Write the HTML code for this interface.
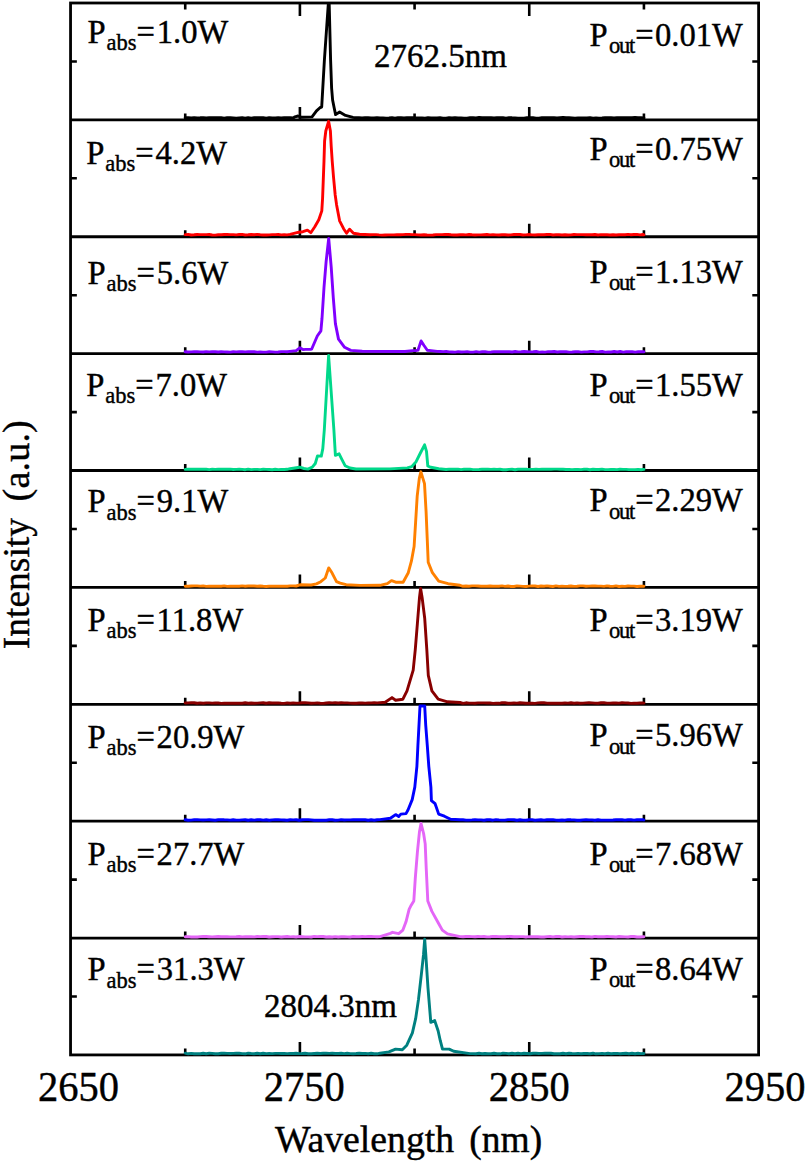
<!DOCTYPE html>
<html><head><meta charset="utf-8"><style>
html,body{margin:0;padding:0;background:#fff;}
body{width:806px;height:1164px;overflow:hidden;font-family:"Liberation Serif",serif;}
svg{display:block;}
text{white-space:pre;}
</style></head><body>
<svg width="806" height="1164" viewBox="0 0 806 1164">
<rect width="806" height="1164" fill="#fff"/>
<g stroke="#000" stroke-width="2.8" fill="none">
<rect x="70.55" y="3.0" width="688.05" height="1051.92"/>
<line x1="70.55" y1="119.88" x2="758.6" y2="119.88"/>
<line x1="70.55" y1="236.76" x2="758.6" y2="236.76"/>
<line x1="70.55" y1="353.64" x2="758.6" y2="353.64"/>
<line x1="70.55" y1="470.52" x2="758.6" y2="470.52"/>
<line x1="70.55" y1="587.40" x2="758.6" y2="587.40"/>
<line x1="70.55" y1="704.28" x2="758.6" y2="704.28"/>
<line x1="70.55" y1="821.16" x2="758.6" y2="821.16"/>
<line x1="70.55" y1="938.04" x2="758.6" y2="938.04"/>
</g>
<path d="M185.23,119.88v-6.5 M414.58,119.88v-6.5 M643.93,119.88v-6.5 M299.90,119.88v-13 M529.25,119.88v-13 M70.55,61.44h6.3 M758.60,61.44h-6.3 M185.23,236.76v-6.5 M414.58,236.76v-6.5 M643.93,236.76v-6.5 M299.90,236.76v-13 M529.25,236.76v-13 M70.55,178.32h6.3 M758.60,178.32h-6.3 M185.23,353.64v-6.5 M414.58,353.64v-6.5 M643.93,353.64v-6.5 M299.90,353.64v-13 M529.25,353.64v-13 M70.55,295.20h6.3 M758.60,295.20h-6.3 M185.23,470.52v-6.5 M414.58,470.52v-6.5 M643.93,470.52v-6.5 M299.90,470.52v-13 M529.25,470.52v-13 M70.55,412.08h6.3 M758.60,412.08h-6.3 M185.23,587.40v-6.5 M414.58,587.40v-6.5 M643.93,587.40v-6.5 M299.90,587.40v-13 M529.25,587.40v-13 M70.55,528.96h6.3 M758.60,528.96h-6.3 M185.23,704.28v-6.5 M414.58,704.28v-6.5 M643.93,704.28v-6.5 M299.90,704.28v-13 M529.25,704.28v-13 M70.55,645.84h6.3 M758.60,645.84h-6.3 M185.23,821.16v-6.5 M414.58,821.16v-6.5 M643.93,821.16v-6.5 M299.90,821.16v-13 M529.25,821.16v-13 M70.55,762.72h6.3 M758.60,762.72h-6.3 M185.23,938.04v-6.5 M414.58,938.04v-6.5 M643.93,938.04v-6.5 M299.90,938.04v-13 M529.25,938.04v-13 M70.55,879.60h6.3 M758.60,879.60h-6.3 M185.23,1054.92v-6.5 M414.58,1054.92v-6.5 M643.93,1054.92v-6.5 M299.90,1054.92v-13 M529.25,1054.92v-13 M70.55,996.48h6.3 M758.60,996.48h-6.3 M185.23,3.00v6.5 M414.58,3.00v6.5 M643.93,3.00v6.5 M299.90,3.00v13 M529.25,3.00v13" stroke="#000" stroke-width="2.6" fill="none"/>
<g fill="none" stroke-width="2.9" stroke-linejoin="round" stroke-linecap="round">
<path d="M185.2,117.7 L188.2,117.6 L191.2,118.0 L194.2,117.6 L197.2,117.9 L200.2,117.8 L203.2,117.6 L206.2,117.9 L209.2,117.6 L212.2,117.8 L215.2,117.6 L218.2,117.6 L221.2,117.8 L224.2,118.1 L227.2,117.6 L230.2,117.7 L233.2,117.9 L236.2,118.1 L239.2,117.9 L242.2,117.8 L245.2,118.2 L248.2,117.6 L251.2,118.1 L254.2,117.7 L257.2,117.6 L260.2,117.6 L263.2,117.7 L266.2,118.1 L269.2,117.6 L272.2,117.9 L275.2,117.9 L278.2,117.8 L281.2,117.9 L284.2,117.6 L287.2,117.6 L290.2,117.7 L293.2,118.0 L295.0,116.8 L298.0,116.0 L301.0,117.2 L312.0,116.9 L316.5,110.9 L320.2,107.5 L321.7,107.0 L324.4,60.0 L328.3,4.2 L329.2,4.2 L330.6,60.0 L331.6,88.0 L332.6,100.0 L334.2,108.0 L335.6,114.6 L339.6,112.0 L345.5,115.4 L353.0,117.4 L356.0,117.8 L359.0,117.7 L362.0,117.9 L365.0,117.8 L368.0,117.7 L371.0,118.0 L374.0,118.0 L377.0,117.7 L380.0,117.9 L383.0,117.9 L386.0,118.1 L389.0,118.0 L392.0,117.7 L395.0,118.2 L398.0,117.6 L401.0,117.8 L404.0,118.0 L407.0,117.6 L410.0,117.8 L413.0,117.6 L416.0,118.0 L419.0,118.0 L422.0,117.9 L425.0,118.1 L428.0,117.7 L431.0,118.0 L434.0,117.9 L437.0,117.9 L440.0,117.8 L443.0,118.1 L446.0,118.1 L449.0,117.8 L452.0,118.0 L455.0,117.6 L458.0,118.0 L461.0,118.0 L464.0,118.2 L467.0,118.1 L470.0,117.7 L473.0,117.8 L476.0,118.0 L479.0,117.5 L482.0,117.8 L485.0,117.6 L488.0,117.6 L491.0,117.6 L494.0,118.0 L497.0,117.6 L500.0,117.7 L503.0,117.8 L506.0,118.1 L509.0,117.6 L512.0,117.8 L515.0,117.9 L518.0,118.1 L521.0,118.1 L524.0,118.1 L527.0,117.7 L530.0,117.8 L533.0,117.8 L536.0,118.1 L539.0,118.2 L542.0,117.6 L545.0,117.6 L548.0,117.7 L551.0,117.7 L554.0,117.8 L557.0,117.9 L560.0,117.7 L563.0,117.5 L566.0,117.8 L569.0,117.8 L572.0,117.9 L575.0,118.1 L578.0,118.0 L581.0,117.9 L584.0,117.9 L587.0,118.0 L590.0,117.6 L593.0,118.1 L596.0,118.0 L599.0,118.1 L602.0,118.0 L605.0,117.8 L608.0,117.8 L611.0,117.6 L614.0,117.9 L617.0,117.6 L620.0,117.6 L623.0,117.7 L626.0,117.6 L629.0,117.8 L632.0,117.6 L635.0,117.5 L638.0,117.6 L641.0,117.6 L643.9,117.9" stroke="#000000"/>
<path d="M185.2,234.6 L188.2,234.4 L191.2,235.0 L194.2,234.8 L197.2,234.5 L200.2,234.6 L203.2,234.6 L206.2,234.6 L209.2,234.5 L212.2,235.0 L215.2,235.1 L218.2,234.7 L221.2,234.7 L224.2,234.5 L227.2,234.5 L230.2,234.6 L233.2,234.6 L236.2,234.9 L239.2,234.5 L242.2,234.4 L245.2,235.0 L248.2,234.8 L251.2,234.5 L254.2,234.8 L257.2,234.4 L260.2,234.8 L263.2,235.0 L266.2,235.0 L269.2,234.9 L272.2,234.6 L275.2,234.6 L278.2,234.5 L281.2,234.9 L284.2,234.8 L287.2,234.9 L290.0,234.4 L298.9,232.2 L302.9,231.7 L307.4,230.2 L310.8,232.7 L314.8,226.8 L318.8,219.8 L321.8,210.9 L322.6,198.0 L323.2,182.0 L324.0,161.0 L324.6,141.0 L325.8,131.0 L328.6,121.3 L330.4,131.0 L331.2,146.0 L332.2,161.0 L333.6,178.0 L335.2,195.0 L336.6,204.9 L339.6,220.8 L343.6,228.7 L346.6,233.2 L349.6,229.2 L353.5,233.2 L359.5,234.2 L370.0,234.7 L373.0,234.6 L376.0,234.6 L379.0,234.9 L382.0,235.1 L385.0,235.0 L388.0,234.9 L391.0,234.9 L394.0,234.9 L397.0,234.6 L400.0,234.7 L403.0,234.6 L406.0,234.4 L409.0,234.4 L412.0,234.6 L415.0,234.6 L418.0,234.9 L421.0,235.0 L424.0,234.7 L427.0,235.0 L430.0,235.1 L433.0,235.0 L436.0,234.6 L439.0,234.6 L442.0,234.6 L445.0,234.5 L448.0,234.5 L451.0,234.8 L454.0,235.0 L457.0,235.0 L460.0,234.7 L463.0,234.8 L466.0,234.9 L469.0,234.5 L472.0,234.8 L475.0,235.0 L478.0,234.9 L481.0,234.9 L484.0,234.7 L487.0,234.5 L490.0,234.9 L493.0,234.6 L496.0,234.9 L499.0,235.0 L502.0,234.7 L505.0,234.7 L508.0,235.0 L511.0,234.9 L514.0,234.5 L517.0,234.5 L520.0,234.5 L523.0,235.0 L526.0,234.9 L529.0,234.5 L532.0,234.9 L535.0,235.0 L538.0,234.8 L541.0,234.6 L544.0,234.8 L547.0,234.5 L550.0,234.4 L553.0,235.0 L556.0,234.8 L559.0,234.8 L562.0,235.0 L565.0,234.7 L568.0,235.0 L571.0,234.9 L574.0,234.5 L577.0,234.6 L580.0,234.6 L583.0,234.6 L586.0,234.8 L589.0,234.6 L592.0,234.7 L595.0,234.5 L598.0,235.0 L601.0,234.6 L604.0,234.7 L607.0,234.8 L610.0,235.0 L613.0,234.7 L616.0,235.0 L619.0,234.7 L622.0,234.8 L625.0,234.8 L628.0,234.4 L631.0,234.7 L634.0,234.5 L637.0,234.4 L640.0,234.9 L643.0,234.5 L643.9,234.8" stroke="#ff0000"/>
<path d="M185.2,351.8 L188.2,352.0 L191.2,351.9 L194.2,351.7 L197.2,351.8 L200.2,351.9 L203.2,352.0 L206.2,351.6 L209.2,351.9 L212.2,351.7 L215.2,351.7 L218.2,352.0 L221.2,351.8 L224.2,351.9 L227.2,352.0 L230.2,352.1 L233.2,351.8 L236.2,351.9 L239.2,351.8 L242.2,351.8 L245.2,351.9 L248.2,351.8 L251.2,351.8 L254.2,351.8 L257.2,352.1 L260.2,351.9 L263.2,352.1 L266.2,352.1 L269.2,351.7 L272.2,351.9 L275.2,352.1 L278.2,352.0 L281.2,351.6 L284.2,351.6 L287.2,351.8 L290.0,351.4 L296.2,350.6 L299.8,347.8 L303.0,349.6 L305.5,349.4 L310.6,349.4 L311.6,349.2 L317.3,336.0 L320.9,330.8 L322.0,318.5 L324.0,287.5 L326.1,261.8 L328.7,238.5 L331.2,266.9 L333.3,297.9 L335.4,323.6 L338.5,339.1 L344.6,347.3 L350.8,350.4 L362.2,351.2 L405.0,351.5 L412.4,350.6 L416.0,350.6 L418.0,350.2 L421.1,340.9 L424.0,345.5 L427.3,350.3 L431.0,350.6 L437.2,351.4 L440.2,351.5 L443.2,351.6 L446.2,351.5 L449.2,351.9 L452.2,352.0 L455.2,352.1 L458.2,351.6 L461.2,352.0 L464.2,351.9 L467.2,351.6 L470.2,352.1 L473.2,352.1 L476.2,351.6 L479.2,352.1 L482.2,351.7 L485.2,351.8 L488.2,352.1 L491.2,352.0 L494.2,351.6 L497.2,351.8 L500.2,351.8 L503.2,351.7 L506.2,351.6 L509.2,351.7 L512.2,352.0 L515.2,351.5 L518.2,351.9 L521.2,351.8 L524.2,351.5 L527.2,351.7 L530.2,351.9 L533.2,351.8 L536.2,351.5 L539.2,352.1 L542.2,352.0 L545.2,352.1 L548.2,351.6 L551.2,351.7 L554.2,351.5 L557.2,352.0 L560.2,351.7 L563.2,351.6 L566.2,351.8 L569.2,352.1 L572.2,352.0 L575.2,351.7 L578.2,351.6 L581.2,352.1 L584.2,351.9 L587.2,351.9 L590.2,351.5 L593.2,351.5 L596.2,351.9 L599.2,351.8 L602.2,351.5 L605.2,352.1 L608.2,351.9 L611.2,352.0 L614.2,351.5 L617.2,352.0 L620.2,351.5 L623.2,352.1 L626.2,351.8 L629.2,351.7 L632.2,351.8 L635.2,352.1 L638.2,351.7 L641.2,351.6 L643.9,351.8" stroke="#8000ff"/>
<path d="M185.2,469.4 L188.2,469.2 L191.2,469.1 L194.2,469.2 L197.2,469.1 L200.2,469.2 L203.2,469.3 L206.2,469.3 L209.2,469.6 L212.2,469.3 L215.2,469.4 L218.2,469.2 L221.2,469.3 L224.2,469.1 L227.2,469.2 L230.2,469.1 L233.2,469.5 L236.2,469.4 L239.2,469.2 L242.2,469.4 L245.2,469.7 L248.2,469.1 L251.2,469.6 L254.2,469.4 L257.2,469.4 L260.2,469.6 L263.2,469.3 L266.2,469.4 L269.2,469.5 L272.2,469.7 L275.2,469.3 L278.2,469.6 L281.2,469.5 L284.2,469.5 L287.2,469.3 L290.0,468.7 L299.7,467.2 L304.0,468.5 L307.9,469.1 L312.3,467.2 L315.3,463.5 L317.5,455.9 L321.3,456.1 L322.8,448.6 L324.3,430.0 L328.6,355.5 L333.9,430.0 L335.4,455.3 L339.1,453.8 L342.1,459.8 L345.1,465.7 L350.0,468.0 L356.0,469.0 L390.0,468.9 L407.4,467.9 L411.7,466.6 L416.1,461.7 L420.4,453.0 L424.6,444.8 L426.5,451.3 L427.8,466.0 L430.8,467.3 L438.7,468.7 L446.0,469.5 L449.0,469.3 L452.0,469.1 L455.0,469.2 L458.0,469.1 L461.0,469.6 L464.0,469.2 L467.0,469.2 L470.0,469.1 L473.0,469.6 L476.0,469.6 L479.0,469.5 L482.0,469.3 L485.0,469.2 L488.0,469.3 L491.0,469.4 L494.0,469.2 L497.0,469.4 L500.0,469.2 L503.0,469.7 L506.0,469.7 L509.0,469.4 L512.0,469.2 L515.0,469.7 L518.0,469.3 L521.0,469.3 L524.0,469.1 L527.0,469.3 L530.0,469.4 L533.0,469.4 L536.0,469.2 L539.0,469.4 L542.0,469.1 L545.0,469.2 L548.0,469.1 L551.0,469.3 L554.0,469.1 L557.0,469.1 L560.0,469.3 L563.0,469.2 L566.0,469.5 L569.0,469.4 L572.0,469.6 L575.0,469.5 L578.0,469.5 L581.0,469.6 L584.0,469.3 L587.0,469.3 L590.0,469.7 L593.0,469.2 L596.0,469.5 L599.0,469.5 L602.0,469.1 L605.0,469.6 L608.0,469.6 L611.0,469.5 L614.0,469.5 L617.0,469.6 L620.0,469.2 L623.0,469.4 L626.0,469.4 L629.0,469.6 L632.0,469.6 L635.0,469.6 L638.0,469.4 L641.0,469.7 L643.9,469.4" stroke="#00d88a"/>
<path d="M185.2,586.3 L188.2,586.3 L191.2,586.0 L194.2,585.9 L197.2,585.9 L200.2,586.1 L203.2,585.9 L206.2,586.4 L209.2,586.2 L212.2,586.3 L215.2,586.3 L218.2,586.3 L221.2,586.2 L224.2,585.9 L227.2,586.4 L230.2,586.3 L233.2,586.2 L236.2,586.2 L239.2,586.3 L242.2,585.9 L245.2,586.3 L248.2,586.0 L251.2,585.9 L254.2,586.0 L257.2,586.3 L260.2,586.0 L263.2,586.3 L266.2,586.5 L269.2,586.2 L272.2,586.1 L275.2,586.2 L278.2,586.3 L281.2,586.3 L284.2,586.3 L287.2,586.3 L290.2,585.9 L293.2,585.9 L296.2,586.0 L300.0,584.8 L311.2,585.0 L316.4,583.9 L320.8,581.7 L325.3,578.0 L328.7,567.9 L332.0,572.8 L336.5,581.7 L340.2,583.2 L346.2,584.7 L360.0,585.4 L380.0,585.3 L387.3,583.7 L391.5,580.6 L395.7,582.2 L403.1,582.2 L408.3,572.7 L411.4,561.2 L414.1,546.5 L415.6,522.4 L417.2,496.2 L419.3,478.4 L420.9,471.8 L424.5,483.6 L426.1,511.9 L427.2,538.1 L428.2,562.2 L432.4,572.7 L438.7,581.1 L448.1,583.7 L460.0,585.3 L463.0,586.3 L466.0,586.0 L469.0,586.2 L472.0,585.9 L475.0,585.9 L478.0,586.0 L481.0,586.3 L484.0,586.3 L487.0,586.3 L490.0,586.0 L493.0,586.2 L496.0,586.2 L499.0,586.2 L502.0,585.9 L505.0,586.4 L508.0,586.0 L511.0,586.5 L514.0,586.5 L517.0,585.9 L520.0,586.1 L523.0,586.4 L526.0,586.5 L529.0,586.1 L532.0,586.0 L535.0,586.0 L538.0,586.5 L541.0,586.0 L544.0,586.2 L547.0,585.9 L550.0,586.2 L553.0,586.5 L556.0,585.9 L559.0,586.4 L562.0,586.2 L565.0,586.4 L568.0,586.3 L571.0,586.0 L574.0,586.4 L577.0,586.2 L580.0,585.9 L583.0,585.9 L586.0,586.2 L589.0,586.1 L592.0,586.0 L595.0,585.9 L598.0,586.1 L601.0,586.1 L604.0,586.4 L607.0,585.9 L610.0,586.3 L613.0,586.4 L616.0,585.9 L619.0,586.5 L622.0,586.3 L625.0,586.4 L628.0,586.0 L631.0,586.1 L634.0,586.1 L637.0,586.5 L640.0,586.2 L643.0,586.1 L643.9,586.2" stroke="#ff8000"/>
<path d="M185.2,703.0 L188.2,702.9 L191.2,702.8 L194.2,702.8 L197.2,703.3 L200.2,702.9 L203.2,703.3 L206.2,702.9 L209.2,702.9 L212.2,703.1 L215.2,702.9 L218.2,703.0 L221.2,703.4 L224.2,703.3 L227.2,703.3 L230.2,703.1 L233.2,703.3 L236.2,703.3 L239.2,703.1 L242.2,703.2 L245.2,702.8 L248.2,703.2 L251.2,703.0 L254.2,703.2 L257.2,703.1 L260.2,702.9 L263.2,702.8 L266.2,703.3 L269.2,702.8 L272.2,703.0 L275.2,703.0 L278.2,702.9 L281.2,703.2 L284.2,703.4 L287.2,702.9 L290.2,703.2 L293.2,702.9 L296.2,703.1 L299.2,703.0 L302.2,702.8 L305.2,702.8 L308.2,702.9 L311.2,703.3 L314.2,703.1 L317.2,702.9 L320.2,703.3 L323.2,703.4 L326.2,703.0 L329.2,702.8 L332.2,702.9 L335.2,702.8 L338.2,703.0 L341.2,702.8 L344.2,702.9 L347.2,702.9 L350.2,703.1 L353.2,703.3 L356.2,703.2 L359.2,703.0 L362.2,703.0 L365.2,703.1 L368.2,703.0 L371.2,702.9 L374.2,702.8 L377.2,702.9 L380.0,702.6 L385.2,702.3 L392.0,697.6 L395.6,700.2 L402.9,699.2 L407.0,690.9 L413.2,670.1 L415.3,649.3 L417.4,623.4 L419.5,597.4 L420.6,588.5 L422.1,597.4 L424.7,618.2 L426.8,649.3 L428.3,675.3 L431.9,690.9 L438.2,699.2 L447.5,701.8 L460.0,702.5 L463.0,703.4 L466.0,702.8 L469.0,703.1 L472.0,703.1 L475.0,703.3 L478.0,702.9 L481.0,702.9 L484.0,702.9 L487.0,703.0 L490.0,703.0 L493.0,703.4 L496.0,703.3 L499.0,703.3 L502.0,702.7 L505.0,702.8 L508.0,703.2 L511.0,703.3 L514.0,703.0 L517.0,703.1 L520.0,702.7 L523.0,703.0 L526.0,703.3 L529.0,703.3 L532.0,703.3 L535.0,703.4 L538.0,702.9 L541.0,702.8 L544.0,702.8 L547.0,703.1 L550.0,703.2 L553.0,703.3 L556.0,703.2 L559.0,703.2 L562.0,703.2 L565.0,703.0 L568.0,703.1 L571.0,702.8 L574.0,703.2 L577.0,702.9 L580.0,703.3 L583.0,703.1 L586.0,702.9 L589.0,702.8 L592.0,702.9 L595.0,703.1 L598.0,703.2 L601.0,702.8 L604.0,702.8 L607.0,703.1 L610.0,703.1 L613.0,703.0 L616.0,702.9 L619.0,703.1 L622.0,702.7 L625.0,702.9 L628.0,703.0 L631.0,703.4 L634.0,703.1 L637.0,703.3 L640.0,703.0 L643.0,702.9 L643.9,703.1" stroke="#880000"/>
<path d="M185.2,819.8 L188.2,820.2 L191.2,820.1 L194.2,819.8 L197.2,819.6 L200.2,819.9 L203.2,820.0 L206.2,819.9 L209.2,819.8 L212.2,820.0 L215.2,820.2 L218.2,819.8 L221.2,819.6 L224.2,819.8 L227.2,819.9 L230.2,820.1 L233.2,819.7 L236.2,820.1 L239.2,820.1 L242.2,819.9 L245.2,819.7 L248.2,820.2 L251.2,819.8 L254.2,820.1 L257.2,819.8 L260.2,819.8 L263.2,820.1 L266.2,819.8 L269.2,820.2 L272.2,819.9 L275.2,819.7 L278.2,819.8 L281.2,819.9 L284.2,820.0 L287.2,820.2 L290.2,819.7 L293.2,819.9 L296.2,819.7 L299.2,820.2 L302.2,819.7 L305.2,819.6 L308.2,819.6 L311.2,819.9 L314.2,820.2 L317.2,820.2 L320.2,820.1 L323.2,820.3 L326.2,820.2 L329.2,819.8 L332.2,819.7 L335.2,820.2 L338.2,820.1 L341.2,819.6 L344.2,820.0 L347.2,819.9 L350.2,819.9 L353.2,819.8 L356.2,819.7 L359.2,819.6 L362.2,819.8 L365.2,819.8 L368.2,820.2 L371.2,819.7 L374.2,820.2 L377.2,819.7 L380.0,819.6 L390.4,818.3 L395.6,814.6 L398.7,816.5 L400.8,814.1 L406.0,813.6 L408.0,810.0 L412.2,799.6 L414.8,787.1 L416.9,766.3 L417.9,745.6 L419.0,724.8 L420.0,706.0 L424.7,706.0 L425.7,724.8 L427.3,745.6 L428.8,766.3 L430.9,787.1 L431.4,800.6 L435.1,803.7 L438.7,814.1 L444.4,816.2 L450.6,819.3 L460.0,819.8 L463.0,819.8 L466.0,820.1 L469.0,820.1 L472.0,819.9 L475.0,819.6 L478.0,819.9 L481.0,819.9 L484.0,820.2 L487.0,819.7 L490.0,819.8 L493.0,820.2 L496.0,819.6 L499.0,819.9 L502.0,820.1 L505.0,820.1 L508.0,819.6 L511.0,819.6 L514.0,819.7 L517.0,820.2 L520.0,819.8 L523.0,820.1 L526.0,820.2 L529.0,819.8 L532.0,819.8 L535.0,820.2 L538.0,820.0 L541.0,819.8 L544.0,820.1 L547.0,819.8 L550.0,819.8 L553.0,819.6 L556.0,820.1 L559.0,820.2 L562.0,820.0 L565.0,820.2 L568.0,819.6 L571.0,819.8 L574.0,819.9 L577.0,820.2 L580.0,820.2 L583.0,819.9 L586.0,819.8 L589.0,819.9 L592.0,819.9 L595.0,820.2 L598.0,819.7 L601.0,820.1 L604.0,820.1 L607.0,820.1 L610.0,820.1 L613.0,820.0 L616.0,819.8 L619.0,819.8 L622.0,819.8 L625.0,820.1 L628.0,819.7 L631.0,819.7 L634.0,820.1 L637.0,819.8 L640.0,819.7 L643.0,819.6 L643.9,820.0" stroke="#0000ff"/>
<path d="M185.2,936.7 L188.2,936.6 L191.2,937.0 L194.2,937.0 L197.2,937.0 L200.2,936.6 L203.2,936.4 L206.2,936.5 L209.2,936.7 L212.2,936.9 L215.2,936.7 L218.2,936.5 L221.2,936.7 L224.2,936.8 L227.2,936.8 L230.2,936.9 L233.2,936.9 L236.2,936.8 L239.2,936.5 L242.2,936.9 L245.2,936.6 L248.2,936.8 L251.2,936.6 L254.2,936.9 L257.2,936.5 L260.2,936.6 L263.2,936.5 L266.2,936.5 L269.2,937.0 L272.2,936.8 L275.2,936.6 L278.2,936.6 L281.2,937.0 L284.2,936.7 L287.2,936.5 L290.2,936.9 L293.2,936.8 L296.2,937.0 L299.2,936.5 L302.2,936.7 L305.2,936.9 L308.2,936.9 L311.2,937.0 L314.2,936.4 L317.2,936.6 L320.2,936.5 L323.2,936.5 L326.2,937.0 L329.2,936.8 L332.2,937.0 L335.2,936.6 L338.2,937.0 L341.2,936.7 L344.2,936.6 L347.2,936.9 L350.2,937.0 L353.2,936.5 L356.2,936.8 L359.2,936.8 L362.2,936.5 L365.2,936.6 L368.2,936.5 L371.2,936.5 L374.2,936.6 L377.2,936.8 L380.0,936.6 L390.4,933.4 L392.5,932.3 L398.7,933.7 L402.9,930.1 L406.0,921.8 L409.1,909.3 L411.2,905.2 L413.8,901.0 L415.3,878.1 L417.4,852.2 L419.5,831.4 L421.0,823.4 L423.6,833.5 L425.2,843.9 L426.2,867.8 L427.8,901.0 L431.9,911.4 L438.2,922.8 L442.3,930.1 L447.5,933.9 L460.0,936.6 L463.0,936.8 L466.0,936.5 L469.0,936.4 L472.0,936.6 L475.0,936.8 L478.0,936.5 L481.0,936.6 L484.0,936.5 L487.0,936.9 L490.0,936.7 L493.0,936.4 L496.0,936.5 L499.0,936.6 L502.0,936.7 L505.0,936.8 L508.0,936.4 L511.0,936.5 L514.0,936.8 L517.0,936.7 L520.0,936.6 L523.0,936.6 L526.0,937.0 L529.0,936.6 L532.0,936.8 L535.0,936.6 L538.0,936.7 L541.0,937.0 L544.0,937.0 L547.0,936.6 L550.0,936.5 L553.0,936.9 L556.0,936.5 L559.0,936.4 L562.0,937.0 L565.0,936.7 L568.0,936.9 L571.0,936.7 L574.0,937.0 L577.0,936.7 L580.0,936.5 L583.0,936.4 L586.0,936.7 L589.0,936.8 L592.0,937.0 L595.0,936.4 L598.0,936.8 L601.0,936.6 L604.0,936.7 L607.0,936.5 L610.0,936.6 L613.0,936.7 L616.0,937.0 L619.0,936.5 L622.0,936.7 L625.0,936.9 L628.0,937.0 L631.0,936.5 L634.0,936.5 L637.0,937.0 L640.0,937.0 L643.0,936.7 L643.9,936.7" stroke="#e466f7"/>
<path d="M185.2,1053.2 L188.2,1053.8 L191.2,1053.4 L194.2,1053.8 L197.2,1053.6 L200.2,1053.7 L203.2,1053.3 L206.2,1053.7 L209.2,1053.3 L212.2,1053.4 L215.2,1053.7 L218.2,1053.7 L221.2,1053.3 L224.2,1053.3 L227.2,1053.4 L230.2,1053.5 L233.2,1053.4 L236.2,1053.2 L239.2,1053.3 L242.2,1053.6 L245.2,1053.8 L248.2,1053.2 L251.2,1053.5 L254.2,1053.7 L257.2,1053.2 L260.2,1053.7 L263.2,1053.2 L266.2,1053.6 L269.2,1053.5 L272.2,1053.6 L275.2,1053.4 L278.2,1053.4 L281.2,1053.5 L284.2,1053.4 L287.2,1053.6 L290.2,1053.5 L293.2,1053.5 L296.2,1053.2 L299.2,1053.6 L302.2,1053.5 L305.2,1053.3 L308.2,1053.7 L311.2,1053.7 L314.2,1053.5 L317.2,1053.3 L320.2,1053.5 L323.2,1053.2 L326.2,1053.3 L329.2,1053.4 L332.2,1053.2 L335.2,1053.5 L338.2,1053.5 L341.2,1053.2 L344.2,1053.6 L347.2,1053.2 L350.2,1053.6 L353.2,1053.7 L356.2,1053.5 L359.2,1053.2 L362.2,1053.5 L365.2,1053.4 L368.2,1053.8 L371.2,1053.3 L374.2,1053.7 L377.2,1053.8 L380.0,1053.2 L388.9,1051.9 L395.6,1049.1 L402.3,1049.7 L406.8,1045.2 L412.4,1032.9 L415.7,1018.4 L418.5,999.4 L421.3,974.8 L423.5,954.7 L424.7,939.2 L425.8,954.7 L428.0,988.2 L430.8,1022.3 L434.7,1020.6 L438.1,1030.7 L440.3,1040.7 L442.5,1049.1 L449.2,1049.1 L453.7,1051.3 L470.0,1053.6 L473.0,1053.6 L476.0,1053.7 L479.0,1053.3 L482.0,1053.8 L485.0,1053.5 L488.0,1053.8 L491.0,1053.8 L494.0,1053.3 L497.0,1053.7 L500.0,1053.8 L503.0,1053.2 L506.0,1053.4 L509.0,1053.7 L512.0,1053.3 L515.0,1053.8 L518.0,1053.3 L521.0,1053.7 L524.0,1053.3 L527.0,1053.5 L530.0,1053.8 L533.0,1053.3 L536.0,1053.3 L539.0,1053.5 L542.0,1053.4 L545.0,1053.2 L548.0,1053.3 L551.0,1053.3 L554.0,1053.8 L557.0,1053.6 L560.0,1053.8 L563.0,1053.3 L566.0,1053.7 L569.0,1053.2 L572.0,1053.5 L575.0,1053.6 L578.0,1053.4 L581.0,1053.7 L584.0,1053.5 L587.0,1053.5 L590.0,1053.7 L593.0,1053.2 L596.0,1053.8 L599.0,1053.6 L602.0,1053.4 L605.0,1053.7 L608.0,1053.3 L611.0,1053.8 L614.0,1053.5 L617.0,1053.4 L620.0,1053.7 L623.0,1053.5 L626.0,1053.3 L629.0,1053.7 L632.0,1053.2 L635.0,1053.7 L638.0,1053.3 L641.0,1053.6 L643.9,1053.5" stroke="#008080"/>
</g>
<g style="font-family:&quot;Liberation Serif&quot;,serif" fill="#000" stroke="#000" stroke-width="0.4">
<text transform="translate(87.60,43.10) scale(1,1.045)" font-size="32.6">P<tspan font-size="22.5" dy="7" dx="0.9">abs</tspan><tspan dy="-7" dx="0">=</tspan><tspan dx="1.8">1.0W</tspan></text>
<text transform="translate(589.50,45.80) scale(1,1.045)" font-size="32.6">P<tspan font-size="22.5" dy="7" dx="1.4" style="letter-spacing:-1.2px">out</tspan><tspan dy="-7" dx="1.1">=</tspan><tspan dx="1.4">0.01W</tspan></text>
<text transform="translate(86.30,163.70) scale(1,1.045)" font-size="32.6">P<tspan font-size="22.5" dy="7" dx="0.9">abs</tspan><tspan dy="-7" dx="0">=</tspan><tspan dx="1.8">4.2W</tspan></text>
<text transform="translate(589.50,160.10) scale(1,1.045)" font-size="32.6">P<tspan font-size="22.5" dy="7" dx="1.4" style="letter-spacing:-1.2px">out</tspan><tspan dy="-7" dx="1.1">=</tspan><tspan dx="1.4">0.75W</tspan></text>
<text transform="translate(87.60,284.10) scale(1,1.045)" font-size="32.6">P<tspan font-size="22.5" dy="7" dx="0.9">abs</tspan><tspan dy="-7" dx="0">=</tspan><tspan dx="1.8">5.6W</tspan></text>
<text transform="translate(589.50,282.80) scale(1,1.045)" font-size="32.6">P<tspan font-size="22.5" dy="7" dx="1.4" style="letter-spacing:-1.2px">out</tspan><tspan dy="-7" dx="1.1">=</tspan><tspan dx="1.4">1.13W</tspan></text>
<text transform="translate(86.30,395.50) scale(1,1.045)" font-size="32.6">P<tspan font-size="22.5" dy="7" dx="0.9">abs</tspan><tspan dy="-7" dx="0">=</tspan><tspan dx="1.8">7.0W</tspan></text>
<text transform="translate(589.50,395.50) scale(1,1.045)" font-size="32.6">P<tspan font-size="22.5" dy="7" dx="1.4" style="letter-spacing:-1.2px">out</tspan><tspan dy="-7" dx="1.1">=</tspan><tspan dx="1.4">1.55W</tspan></text>
<text transform="translate(87.60,512.20) scale(1,1.045)" font-size="32.6">P<tspan font-size="22.5" dy="7" dx="0.9">abs</tspan><tspan dy="-7" dx="0">=</tspan><tspan dx="1.8">9.1W</tspan></text>
<text transform="translate(589.50,511.20) scale(1,1.045)" font-size="32.6">P<tspan font-size="22.5" dy="7" dx="1.4" style="letter-spacing:-1.2px">out</tspan><tspan dy="-7" dx="1.1">=</tspan><tspan dx="1.4">2.29W</tspan></text>
<text transform="translate(87.40,630.70) scale(1,1.045)" font-size="32.6">P<tspan font-size="22.5" dy="7" dx="0.9">abs</tspan><tspan dy="-7" dx="0">=</tspan><tspan dx="1.8">11.8W</tspan></text>
<text transform="translate(589.50,630.50) scale(1,1.045)" font-size="32.6">P<tspan font-size="22.5" dy="7" dx="1.4" style="letter-spacing:-1.2px">out</tspan><tspan dy="-7" dx="1.1">=</tspan><tspan dx="1.4">3.19W</tspan></text>
<text transform="translate(87.40,747.70) scale(1,1.045)" font-size="32.6">P<tspan font-size="22.5" dy="7" dx="0.9">abs</tspan><tspan dy="-7" dx="0">=</tspan><tspan dx="1.8">20.9W</tspan></text>
<text transform="translate(589.50,746.20) scale(1,1.045)" font-size="32.6">P<tspan font-size="22.5" dy="7" dx="1.4" style="letter-spacing:-1.2px">out</tspan><tspan dy="-7" dx="1.1">=</tspan><tspan dx="1.4">5.96W</tspan></text>
<text transform="translate(87.40,864.70) scale(1,1.045)" font-size="32.6">P<tspan font-size="22.5" dy="7" dx="0.9">abs</tspan><tspan dy="-7" dx="0">=</tspan><tspan dx="1.8">27.7W</tspan></text>
<text transform="translate(589.50,864.50) scale(1,1.045)" font-size="32.6">P<tspan font-size="22.5" dy="7" dx="1.4" style="letter-spacing:-1.2px">out</tspan><tspan dy="-7" dx="1.1">=</tspan><tspan dx="1.4">7.68W</tspan></text>
<text transform="translate(87.60,980.20) scale(1,1.045)" font-size="32.6">P<tspan font-size="22.5" dy="7" dx="0.9">abs</tspan><tspan dy="-7" dx="0">=</tspan><tspan dx="1.8">31.3W</tspan></text>
<text transform="translate(589.50,980.10) scale(1,1.045)" font-size="32.6">P<tspan font-size="22.5" dy="7" dx="1.4" style="letter-spacing:-1.2px">out</tspan><tspan dy="-7" dx="1.1">=</tspan><tspan dx="1.4">8.64W</tspan></text>
<text transform="translate(374.00,66.70) scale(1,1.045)" font-size="33">2762.5nm</text>
<text transform="translate(264.00,1017.30) scale(1,1.045)" font-size="33">2804.3nm</text>
<text transform="translate(38.00,1100.80) scale(1,1.045)" font-size="40.5">2650</text>
<text transform="translate(263.80,1100.80) scale(1,1.045)" font-size="40.5">2750</text>
<text transform="translate(488.80,1100.80) scale(1,1.045)" font-size="40.5">2850</text>
<text transform="translate(724.60,1100.80) scale(1,1.045)" font-size="40.5">2950</text>
<text transform="translate(274.90,1151.80) scale(1,1.02)" font-size="37.75">Wavelength</text>
<text transform="translate(469.30,1151.80) scale(1,1.02)" font-size="37.5">(nm)</text>
<text transform="translate(29.20,649.20) rotate(-90) scale(1,1.02)" font-size="37.5">Intensity</text>
<text transform="translate(29.40,501.40) rotate(-90)" font-size="38.5">(a.u.)</text>
</g>
</svg>
</body></html>
